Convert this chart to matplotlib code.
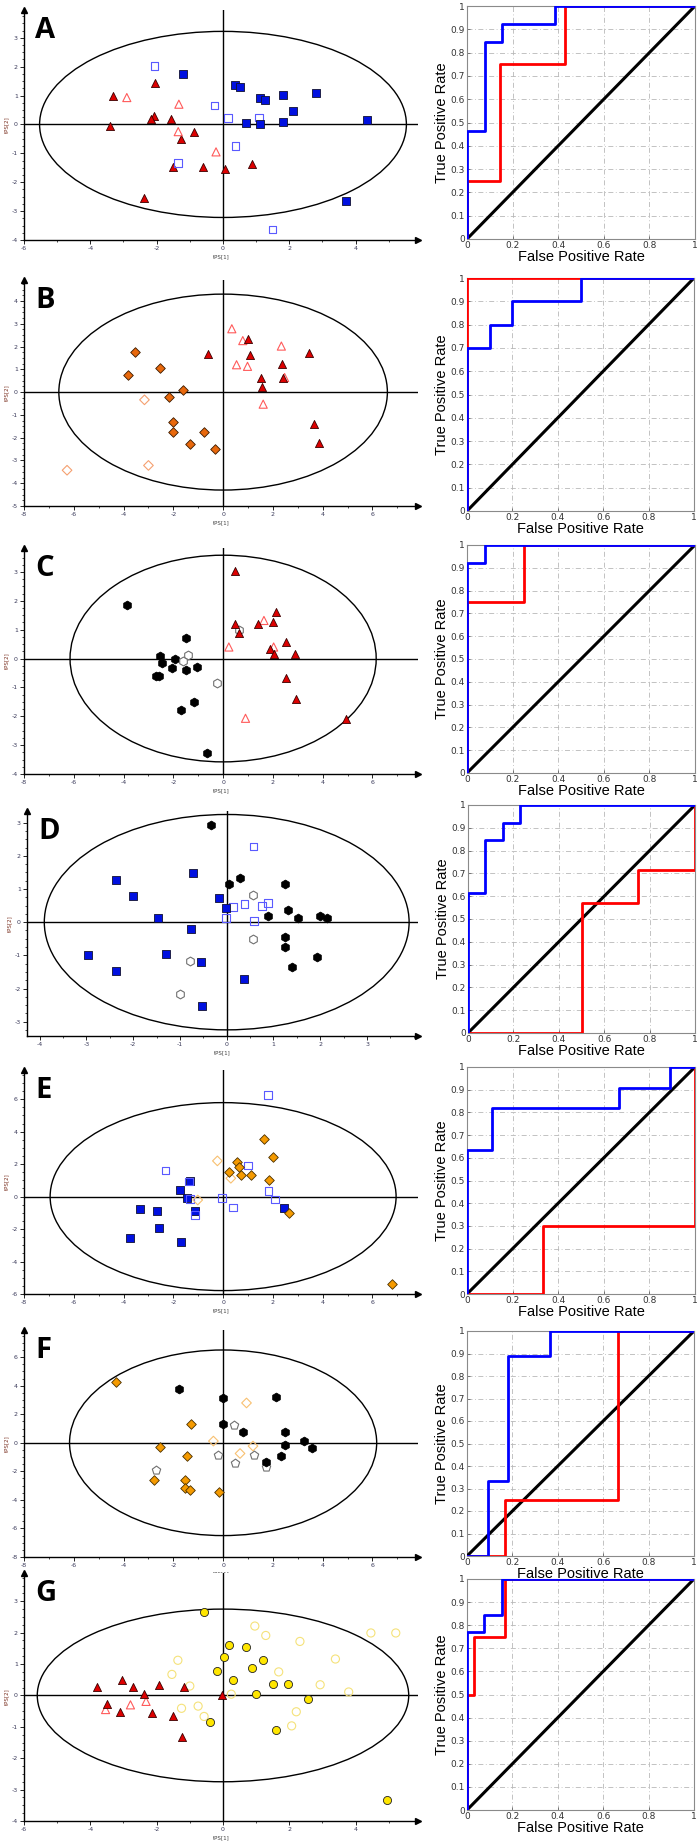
import matplotlib
matplotlib.use("Agg")
import matplotlib.pyplot as plt
from matplotlib.patches import Ellipse
from matplotlib.ticker import MultipleLocator, FixedLocator, AutoMinorLocator

# ---------------- DATA ----------------
# Panel A score plot
a_red_fill = [(-3.32, 0.97), (-3.42, -0.06), (-2.04, 1.43), (-2.09, 0.28), (-2.16, 0.18), (-1.58, 0.20),
              (-1.26, -0.51), (-0.87, -0.27), (-1.51, -1.49), (-0.60, -1.46), (0.07, -1.53), (0.88, -1.37),
              (-2.38, -2.53)]
a_red_open = [(-2.90, 0.93), (-1.33, 0.70), (-1.35, -0.25), (-0.21, -0.95)]
a_blue_fill = [(-1.21, 1.76), (0.35, 1.35), (0.50, 1.28), (0.68, 0.05), (1.12, 0.93), (1.28, 0.84), (1.13, 0.0),
               (1.80, 1.01), (2.11, 0.45), (1.82, 0.08), (2.80, 1.10), (4.35, 0.15), (3.71, -2.66)]
a_blue_open = [(-2.06, 2.03), (-0.26, 0.66), (0.16, 0.22), (1.09, 0.24), (0.38, -0.74), (-1.35, -1.33), (1.49, -3.64)]

# Panel B score plot
b_orange_fill = [(-3.56, 1.77), (-3.84, 0.76), (-2.53, 1.07), (-1.62, 0.07), (-2.17, -0.22), (-2.01, -1.32),
                 (-2.01, -1.76), (-1.34, -2.26), (-0.75, -1.77), (-0.33, -2.51)]
b_orange_open = [(-3.16, -0.34), (-3.00, -3.22), (-6.27, -3.43)]
b_red_fill = [(-0.60, 1.66), (0.98, 2.31), (1.10, 1.64), (1.54, 0.62), (1.55, 0.23), (2.35, 1.25), (2.41, 0.63),
              (3.46, 1.70), (3.65, -1.41), (3.85, -2.24)]
b_red_open = [(0.35, 2.78), (0.79, 2.26), (0.54, 1.20), (0.98, 1.13), (2.34, 2.02), (2.47, 0.64), (1.61, -0.53)]

# Panel C score plot
c_black_fill = [(-3.88, 1.84), (-1.49, 0.72), (-2.55, 0.08), (-2.45, -0.17), (-1.95, -0.01), (-2.05, -0.32),
                (-1.48, -0.38), (-1.03, -0.29), (-2.70, -0.60), (-2.56, -0.60), (-1.18, -1.51), (-1.70, -1.77),
                (-0.66, -3.26)]
c_black_open = [(-1.41, 0.13), (-1.60, -0.10), (-0.24, -0.83), (0.64, 0.98)]
c_red_fill = [(0.46, 3.02), (0.46, 1.18), (0.64, 0.89), (1.42, 1.18), (2.00, 1.26), (2.13, 1.60), (2.52, 0.56),
              (1.88, 0.34), (2.05, 0.17), (2.87, 0.17), (2.54, -0.67), (2.94, -1.41), (4.93, -2.10)]
c_red_open = [(1.64, 1.32), (2.03, 0.40), (0.23, 0.40), (0.90, -2.07)]

# Panel D score plot
d_blue_fill = [(-2.37, 1.28), (-2.01, 0.80), (-1.47, 0.13), (-0.73, 1.49), (-0.16, 0.72), (-0.01, 0.43),
               (-0.77, -0.22), (-2.96, -1.00), (-2.36, -1.47), (-1.30, -0.95), (-0.55, -1.19), (0.36, -1.71),
               (-0.53, -2.53)]
d_blue_open = [(0.57, 2.28), (0.14, 0.45), (0.38, 0.55), (0.76, 0.49), (0.88, 0.57), (-0.02, 0.13), (0.58, 0.03)]
d_black_fill = [(-0.33, 2.93), (0.04, 1.14), (0.28, 1.34), (1.25, 1.14), (1.30, 0.38), (0.88, 0.19), (1.52, 0.14),
                (1.99, 0.19), (2.14, 0.12), (1.25, -0.44), (1.25, -0.76), (1.93, -1.05), (1.40, -1.36)]
d_black_open = [(0.56, 0.81), (0.56, -0.51), (-0.78, -1.16), (-1.00, -2.15)]

# Panel E score plot
e_blue_fill = [(-1.33, 0.97), (-1.75, 0.43), (-1.46, -0.10), (-1.11, -0.90), (-3.33, -0.78), (-2.67, -0.90),
               (-2.56, -1.93), (-3.76, -2.57), (-1.70, -2.77), (2.46, -0.70)]
e_blue_open = [(1.80, 6.27), (-2.31, 1.60), (-1.37, 0.92), (-1.34, -0.14), (-1.14, -1.13), (-0.04, -0.10),
               (0.40, -0.68), (0.99, 1.91), (1.83, 0.35), (2.09, -0.18)]
e_orange_fill = [(1.65, 3.53), (1.99, 2.47), (0.55, 2.16), (0.63, 1.83), (0.23, 1.54), (0.70, 1.36), (1.11, 1.36),
                 (1.84, 1.05), (2.66, -1.01), (6.79, -5.40)]
e_orange_open = [(-0.23, 2.20), (0.31, 1.13), (-1.02, -0.21)]

# Panel F score plot
f_black_fill = [(-1.79, 3.80), (-0.01, 3.15), (-0.01, 1.34), (0.80, 0.73), (2.13, 3.24), (2.50, 0.77),
                (2.50, -0.19), (3.25, 0.14), (3.56, -0.35), (2.31, -0.96), (1.73, -1.34)]
f_black_open = [(0.45, 1.27), (-0.21, -0.89), (0.49, -1.41), (1.24, -0.85), (1.74, -1.71), (-2.68, -1.90)]
f_orange_fill = [(-4.32, 4.23), (-1.28, 1.34), (-2.53, -0.33), (-1.46, -0.94), (-1.53, -2.58), (-2.77, -2.61),
                 (-1.53, -3.19), (-1.32, -3.29), (-0.17, -3.45)]
f_orange_open = [(0.94, 2.79), (-0.39, 0.12), (0.68, -0.75), (1.20, -0.23)]

# Panel G score plot
g_yellow_fill = [(-0.57, 2.66), (0.18, 1.61), (0.04, 1.24), (-0.18, 0.79), (0.68, 1.54), (0.86, 0.86),
                 (0.29, 0.49), (1.21, 1.12), (1.50, 0.37), (1.00, 0.04), (1.96, 0.37), (-0.39, -0.86),
                 (1.61, -1.09), (2.57, -0.11), (4.96, -3.33)]
g_yellow_open = [(4.46, 1.99), (5.21, 1.99), (2.32, 1.72), (3.39, 1.16), (3.79, 0.11), (2.93, 0.34), (1.29, 1.91),
                 (0.96, 2.21), (-1.36, 1.12), (-1.54, 0.67), (-1.00, 0.30), (-0.75, -0.34), (-0.57, -0.67),
                 (1.68, 0.75), (2.21, -0.52), (2.07, -0.97), (0.25, 0.04), (-1.25, -0.41)]
g_red_fill = [(-3.79, 0.26), (-3.04, 0.49), (-2.71, 0.26), (-3.50, -0.26), (-3.11, -0.52), (-2.39, 0.04),
              (-1.93, 0.34), (-2.14, -0.56), (-1.50, -0.64), (-1.18, 0.26), (-1.25, -1.31), (-0.04, 0.0)]
g_red_open = [(-2.79, -0.30), (-2.32, -0.19), (-3.54, -0.45)]

# ROC curves (FPR, TPR) vertices
roc_a_blue = [(0, 0), (0, 0.462), (0.077, 0.462), (0.077, 0.846), (0.154, 0.846), (0.154, 0.923), (0.385, 0.923), (0.385, 1), (1, 1)]
roc_a_red = [(0, 0), (0, 0.25), (0.143, 0.25), (0.143, 0.75), (0.429, 0.75), (0.429, 1), (1, 1)]
roc_b_blue = [(0, 0), (0, 0.7), (0.1, 0.7), (0.1, 0.8), (0.2, 0.8), (0.2, 0.9), (0.5, 0.9), (0.5, 1), (1, 1)]
roc_b_red = [(0, 0), (0, 1), (1, 1)]
roc_c_blue = [(0, 0), (0, 0.923), (0.077, 0.923), (0.077, 1), (1, 1)]
roc_c_red = [(0, 0), (0, 0.75), (0.25, 0.75), (0.25, 1), (1, 1)]
roc_d_blue = [(0, 0), (0, 0.615), (0.077, 0.615), (0.077, 0.846), (0.154, 0.846), (0.154, 0.923), (0.231, 0.923), (0.231, 1), (1, 1)]
roc_d_red = [(0, 0), (0.5, 0), (0.5, 0.571), (0.75, 0.571), (0.75, 0.714), (1, 0.714), (1, 1)]
roc_e_blue = [(0, 0), (0, 0.636), (0.111, 0.636), (0.111, 0.818), (0.667, 0.818), (0.667, 0.909), (0.889, 0.909), (0.889, 1), (1, 1)]
roc_e_red = [(0, 0), (0.333, 0), (0.333, 0.3), (1, 0.3), (1, 1)]
roc_f_blue = [(0, 0), (0.091, 0), (0.091, 0.333), (0.182, 0.333), (0.182, 0.889), (0.364, 0.889), (0.364, 1), (1, 1)]
roc_f_red = [(0, 0), (0.167, 0), (0.167, 0.25), (0.667, 0.25), (0.667, 1), (1, 1)]
roc_g_blue = [(0, 0), (0, 0.769), (0.077, 0.769), (0.077, 0.846), (0.154, 0.846), (0.154, 1), (1, 1)]
roc_g_red = [(0, 0), (0, 0.5), (0.033, 0.5), (0.033, 0.75), (0.167, 0.75), (0.167, 1), (1, 1)]

roc_yticklabels = ["0", "0.1", "0.2", "0.3", "0.4", "0.5", "0.6", "0.7", "0.8", "0.9", "1"]
roc_xticklabels = ["0", "0.2", "0.4", "0.6", "0.8", "1"]
panel_letters = ["A", "B", "C", "D", "E", "F", "G"]

# ---------------- STYLES ----------------
W, H = 700, 1846
fig = plt.figure(figsize=(W / 100, H / 100), dpi=100)


def rect(l, t, r, b):
    return [l / W, 1 - b / H, (r - l) / W, (b - t) / H]


STY = {
    'red_fill': dict(marker='^', s=34, c='#DD0000', edgecolors='#3a0000', linewidths=0.6),
    'red_open': dict(marker='^', s=34, c='none', edgecolors='#FF5A5A', linewidths=0.8),
    'blue_fill': dict(marker='s', s=30, c='#0010E0', edgecolors='#101030', linewidths=0.6),
    'blue_open': dict(marker='s', s=30, c='none', edgecolors='#5A5AFF', linewidths=0.8),
    'orangeB_fill': dict(marker='D', s=24, c='#E8680C', edgecolors='#3a1a00', linewidths=0.6),
    'orangeB_open': dict(marker='D', s=24, c='none', edgecolors='#F5A070', linewidths=0.8),
    'orange_fill': dict(marker='D', s=24, c='#F59A00', edgecolors='#4a3000', linewidths=0.6),
    'orange_open': dict(marker='D', s=24, c='none', edgecolors='#F8C070', linewidths=0.8),
    'black_fill': dict(marker='h', s=40, c='#000000', edgecolors='#000000', linewidths=0.6),
    'black_open': dict(marker='h', s=40, c='white', edgecolors='#707070', linewidths=0.8),
    'black_openp': dict(marker='p', s=40, c='white', edgecolors='#707070', linewidths=0.8),
    'yellow_fill': dict(marker='o', s=34, c='#FFE600', edgecolors='#202020', linewidths=0.6),
    'yellow_open': dict(marker='o', s=34, c='none', edgecolors='#F5E27A', linewidths=0.8),
}

scatter_panels = [
    # box(l,t,r,b), xlim, ylim, ellipse semi axes, xmajor, xminor, ymajor, yminor, groups
    dict(box=(24, 10, 418, 240), xlim=(-6, 5.88), ylim=(-4, 3.96), ell=(5.53, 3.22), xt=(2, 1), yt=(1, 0.25),
         groups=[(a_red_fill, 'red_fill'), (a_red_open, 'red_open'), (a_blue_open, 'blue_open'), (a_blue_fill, 'blue_fill')]),
    dict(box=(24, 280, 418, 506), xlim=(-8, 7.83), ylim=(-5, 4.92), ell=(6.6, 4.3), xt=(2, 1), yt=(1, 0.25),
         groups=[(b_orange_fill, 'orangeB_fill'), (b_orange_open, 'orangeB_open'), (b_red_open, 'red_open'), (b_red_fill, 'red_fill')]),
    dict(box=(24, 548, 418, 774), xlim=(-8, 7.83), ylim=(-4, 3.83), ell=(6.15, 3.58), xt=(2, 1), yt=(1, 0.25),
         groups=[(c_black_fill, 'black_fill'), (c_black_open, 'black_open'), (c_red_open, 'red_open'), (c_red_fill, 'red_fill')]),
    dict(box=(27, 811, 418, 1036), xlim=(-4.27, 4.09), ylim=(-3.43, 3.35), ell=(3.9, 3.245), xt=(1, 0.5), yt=(1, 0.25),
         groups=[(d_black_fill, 'black_fill'), (d_black_open, 'black_open'), (d_blue_open, 'blue_open'), (d_blue_fill, 'blue_fill')]),
    dict(box=(24, 1070, 418, 1294), xlim=(-8, 7.83), ylim=(-6, 7.8), ell=(6.95, 5.79), xt=(2, 1), yt=(2, 0.5),
         groups=[(e_blue_fill, 'blue_fill'), (e_blue_open, 'blue_open'), (e_orange_open, 'orange_open'), (e_orange_fill, 'orange_fill')]),
    dict(box=(24, 1330, 418, 1557), xlim=(-8, 7.83), ylim=(-8, 7.9), ell=(6.17, 6.5), xt=(2, 1), yt=(2, 0.5),
         groups=[(f_orange_fill, 'orange_fill'), (f_orange_open, 'orange_open'), (f_black_open, 'black_openp'), (f_black_fill, 'black_fill')]),
    dict(box=(24, 1573, 418, 1821), xlim=(-6, 5.88), ylim=(-4, 3.9), ell=(5.6, 2.75), xt=(2, 1), yt=(1, 0.25),
         groups=[(g_yellow_open, 'yellow_open'), (g_red_open, 'red_open'), (g_red_fill, 'red_fill'), (g_yellow_fill, 'yellow_fill')]),
]

roc_panels = [
    dict(box=(467, 6, 695, 239), blue=roc_a_blue, red=roc_a_red),
    dict(box=(467, 278, 694, 511), blue=roc_b_blue, red=roc_b_red),
    dict(box=(467, 545, 695, 773), blue=roc_c_blue, red=roc_c_red),
    dict(box=(468, 805, 695, 1033), blue=roc_d_blue, red=roc_d_red),
    dict(box=(467, 1067, 695, 1294), blue=roc_e_blue, red=roc_e_red),
    dict(box=(467, 1331, 694, 1556), blue=roc_f_blue, red=roc_f_red),
    dict(box=(467, 1579, 694, 1810), blue=roc_g_blue, red=roc_g_red),
]

tick_col = '#3a3a5a'

for letter, p in zip(panel_letters, scatter_panels):
    ax = fig.add_axes(rect(*p['box']))
    ax.set_xlim(*p['xlim'])
    ax.set_ylim(*p['ylim'])
    for s in ('top', 'right'):
        ax.spines[s].set_visible(False)
    for s in ('left', 'bottom'):
        ax.spines[s].set_linewidth(1.0)
        ax.spines[s].set_color('black')
    ax.plot(1, 0, '>k', ms=5, transform=ax.transAxes, clip_on=False)
    ax.plot(0, 1, '^k', ms=5, transform=ax.transAxes, clip_on=False)
    ax.xaxis.set_major_locator(MultipleLocator(p['xt'][0]))
    ax.xaxis.set_minor_locator(MultipleLocator(p['xt'][1]))
    ax.yaxis.set_major_locator(MultipleLocator(p['yt'][0]))
    ax.yaxis.set_minor_locator(MultipleLocator(p['yt'][1]))
    ax.tick_params(which='major', direction='out', length=3, width=0.6, labelsize=4.5,
                   labelcolor=tick_col, pad=1.5)
    ax.tick_params(which='minor', direction='out', length=1.5, width=0.5)
    # keep tick labels within the drawn range
    xmaj = [v for v in ax.get_xticks() if p['xlim'][0] - 1e-6 <= v <= p['xlim'][1] - 0.5]
    ymaj = [v for v in ax.get_yticks() if p['ylim'][0] - 1e-6 <= v <= p['ylim'][1] - 0.3]
    ax.set_xticks(xmaj)
    ax.set_yticks(ymaj)
    ax.set_xticklabels([f"{v:g}" for v in xmaj])
    ax.set_yticklabels([f"{v:g}" for v in ymaj])
    ax.set_xlabel('tPS[1]', fontsize=4, color='#404040', labelpad=2)
    ax.set_ylabel('tPS[2]', fontsize=4, color='#7a3020', labelpad=2)
    ax.axhline(0, color='black', lw=1.0, zorder=1)
    ax.axvline(0, color='black', lw=1.0, zorder=1)
    ax.add_patch(Ellipse((0, 0), 2 * p['ell'][0], 2 * p['ell'][1], fill=False, ec='black', lw=1.0, zorder=1))
    for pts, key in p['groups']:
        ax.scatter([q[0] for q in pts], [q[1] for q in pts], zorder=3, clip_on=False, **STY[key])
    ax.text(0.028, 0.975, letter, transform=ax.transAxes, ha='left', va='top',
            fontsize=21, fontweight='bold', family='Open Sans', color='black')

for p in roc_panels:
    ax = fig.add_axes(rect(*p['box']))
    ax.set_xlim(0, 1)
    ax.set_ylim(0, 1)
    for s in ax.spines.values():
        s.set_color('#8a8a8a')
        s.set_linewidth(0.8)
    ax.set_xticks([0, 0.2, 0.4, 0.6, 0.8, 1.0])
    ax.set_yticks([i / 10 for i in range(11)])
    ax.set_xticklabels(roc_xticklabels)
    ax.set_yticklabels(roc_yticklabels)
    ax.tick_params(direction='in', length=2, width=0.5, labelsize=6.5, labelcolor='#333333', pad=1.5,
                   color='#555555')
    ax.grid(True, color='#b8b8b8', lw=0.6, linestyle=(0, (6, 3, 1, 3)))
    ax.plot([0, 1], [0, 1], color='black', lw=2.2, zorder=3)
    ax.plot([q[0] for q in p['red']], [q[1] for q in p['red']], color='#FF0000', lw=2.0, zorder=4)
    ax.plot([q[0] for q in p['blue']], [q[1] for q in p['blue']], color='#0000FF', lw=2.0, zorder=5)
    ax.set_xlabel('False Positive Rate', fontsize=10.5, family='Liberation Sans', labelpad=0)
    ax.set_ylabel('True Positive Rate', fontsize=10.5, family='Liberation Sans', labelpad=1)

fig.savefig('out.png', dpi=100)
